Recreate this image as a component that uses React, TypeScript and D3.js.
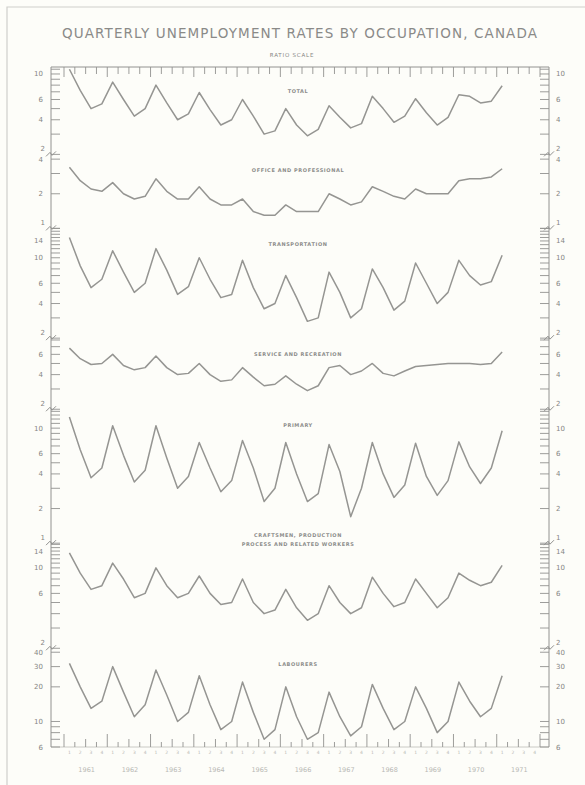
import React, { useRef, useEffect } from "react";
import * as d3 from "d3";

// quarterly rates, 1961 Q1 .. 1971 Q1 (per cent)
const years = ["1961", "1962", "1963", "1964", "1965", "1966", "1967", "1968", "1969", "1970", "1971"];
const quarterMarks = ["1", "2", "3", "4"];

const total = [
  11.0, 7.2, 5.0, 5.5, 8.5, 6.0, 4.3, 5.0, 8.0, 5.6, 4.0, 4.5, 6.9, 4.9, 3.6, 4.0,
  6.0, 4.3, 3.0, 3.2, 5.0, 3.6, 2.9, 3.3, 5.3, 4.2, 3.4, 3.7, 6.4, 5.0, 3.8, 4.3,
  6.1, 4.6, 3.6, 4.2, 6.6, 6.4, 5.6, 5.8, 7.9,
];
const office = [
  3.4, 2.6, 2.2, 2.1, 2.5, 2.0, 1.8, 1.9, 2.7, 2.1, 1.8, 1.8, 2.3, 1.8, 1.6, 1.6,
  1.8, 1.4, 1.3, 1.3, 1.6, 1.4, 1.4, 1.4, 2.0, 1.8, 1.6, 1.7, 2.3, 2.1, 1.9, 1.8,
  2.2, 2.0, 2.0, 2.0, 2.6, 2.7, 2.7, 2.8, 3.3,
];
const transport = [
  15.0, 8.5, 5.5, 6.5, 11.5, 7.5, 5.0, 6.0, 12.0, 7.8, 4.8, 5.6, 10.0, 6.5, 4.5, 4.8,
  9.5, 5.5, 3.6, 4.0, 7.0, 4.5, 2.8, 3.0, 7.5, 5.0, 3.0, 3.6, 8.0, 5.5, 3.5, 4.2,
  9.0, 6.0, 4.0, 5.0, 9.5, 7.0, 5.8, 6.2, 10.5,
];
const service = [
  6.8, 5.5, 4.9, 5.0, 6.0, 4.8, 4.4, 4.6, 5.8, 4.6, 4.0, 4.1, 5.0, 4.0, 3.5, 3.6,
  4.6, 3.8, 3.2, 3.3, 3.9, 3.3, 2.9, 3.2, 4.6, 4.8, 4.0, 4.3, 5.0, 4.1, 3.9, 4.3,
  4.7, 4.8, 4.9, 5.0, 5.0, 5.0, 4.9, 5.0, 6.3,
];
const primary = [
  12.5, 6.5, 3.7, 4.5, 10.5, 5.8, 3.4, 4.3, 10.5, 5.5, 3.0, 3.8, 7.5, 4.5, 2.8, 3.5,
  7.8, 4.5, 2.3, 3.0, 7.5, 4.0, 2.3, 2.7, 7.2, 4.2, 1.7, 3.0, 7.5, 4.0, 2.5, 3.2,
  7.4, 3.8, 2.6, 3.5, 7.6, 4.6, 3.3, 4.5, 9.5,
];
const crafts = [
  13.5, 9.0, 6.5, 7.0, 11.0, 8.0, 5.5, 6.0, 10.0, 7.0, 5.5, 6.0, 8.5, 6.0, 4.8, 5.0,
  8.0, 5.0, 4.0, 4.3, 6.5, 4.5, 3.5, 4.0, 7.0, 5.0, 4.0, 4.5, 8.3, 6.0, 4.6, 5.0,
  8.0, 6.0, 4.5, 5.5, 9.0, 7.8, 7.0, 7.5, 10.5,
];
const labourers = [
  32, 20, 13, 15, 30, 18, 11, 14, 28, 17, 10, 12, 25, 14, 8.5, 10,
  22, 12, 7, 8.5, 20, 11, 7, 8, 18, 11, 7.5, 9, 21, 13, 8.5, 10,
  20, 13, 8, 10, 22, 15, 11, 13, 25,
];

const panelTitles = [
  ["TOTAL"],
  ["OFFICE AND PROFESSIONAL"],
  ["TRANSPORTATION"],
  ["SERVICE AND RECREATION"],
  ["PRIMARY"],
  ["CRAFTSMEN, PRODUCTION", "PROCESS AND RELATED WORKERS"],
  ["LABOURERS"],
];
const panelSeries = [total, office, transport, service, primary, crafts, labourers];
const panelDomains = [
  [2, 11.5], [1, 4.4], [2, 18], [2, 8.3], [1, 14.6], [2, 16.4], [6, 43.3],
];
const panelLabels = [
  [10, 6, 4], [4, 2], [14, 10, 6, 4], [6, 4], [10, 6, 4, 2], [14, 10, 6], [40, 30, 20, 10, 6],
];

const W = 585;
const H = 785;
const TOP = 67;
const BOT = 747;
const AXL = 51;
const AXR = 549;
const X0 = 64;
const X1 = 540;
const ink = "#929290";
const textInk = "#858583";
const font = "'DejaVu Sans', sans-serif";

export default function App() {
  const svgRef = useRef(null);

  useEffect(() => {
    if (!svgRef.current) return;
    const svg = d3.select(svgRef.current);
    svg.selectAll("*").remove();

    svg.append("rect").attr("width", W).attr("height", H).attr("fill", "#fdfdf9");

    // page frame of the scan
    svg.append("path")
      .attr("d", `M7,${H} L7,7 L${W},7`)
      .attr("fill", "none").attr("stroke", "#cfcfcb").attr("stroke-width", 1.2);

    svg.append("text")
      .attr("x", 62).attr("y", 38)
      .attr("textLength", 475).attr("lengthAdjust", "spacing")
      .attr("font-family", font).attr("font-size", 13.5).attr("fill", "#8a8a88")
      .text("QUARTERLY UNEMPLOYMENT RATES BY OCCUPATION, CANADA");

    svg.append("text")
      .attr("x", 292).attr("y", 57).attr("text-anchor", "middle")
      .attr("font-family", font).attr("font-size", 5.5).attr("fill", textInk)
      .attr("letter-spacing", 0.8)
      .text("RATIO SCALE");

    const x = d3.scaleLinear().domain([0, 44]).range([X0, X1]);

    // stack the log panels with one common ratio
    const decades = panelDomains.map(([lo, hi]) => Math.log10(hi / lo));
    const k = (BOT - TOP) / d3.sum(decades);
    let yTop = TOP;
    const panels = panelDomains.map((dom, i) => {
      const h = decades[i] * k;
      const y = d3.scaleLog().domain(dom).range([yTop + h, yTop]);
      const p = { y, top: yTop, bottom: yTop + h, i };
      yTop += h;
      return p;
    });

    const g = svg.append("g");

    // axes frame
    g.append("line").attr("x1", AXL).attr("x2", AXR).attr("y1", TOP).attr("y2", TOP)
      .attr("stroke", ink).attr("stroke-width", 1);
    g.append("line").attr("x1", AXL).attr("x2", AXR).attr("y1", BOT).attr("y2", BOT)
      .attr("stroke", "#bdbdb9").attr("stroke-width", 0.8);
    g.append("line").attr("x1", AXL).attr("x2", AXL).attr("y1", TOP).attr("y2", BOT)
      .attr("stroke", ink).attr("stroke-width", 1);
    g.append("line").attr("x1", AXR).attr("x2", AXR).attr("y1", TOP).attr("y2", BOT)
      .attr("stroke", ink).attr("stroke-width", 1);

    // quarter ticks along top and bottom
    const qs = d3.range(0, 45);
    g.selectAll(".tq").data(qs).join("line")
      .attr("x1", (d) => x(d)).attr("x2", (d) => x(d))
      .attr("y1", TOP).attr("y2", (d) => TOP + (d % 4 === 0 ? 10 : 7))
      .attr("stroke", ink).attr("stroke-width", 0.9);
    g.selectAll(".bq").data(qs).join("line")
      .attr("x1", (d) => x(d)).attr("x2", (d) => x(d))
      .attr("y1", BOT).attr("y2", (d) => BOT - (d % 4 === 0 ? 13 : d % 2 === 0 ? 8 : 5))
      .attr("stroke", ink).attr("stroke-width", 0.9);

    g.selectAll(".ql").data(d3.range(0, 44)).join("text")
      .attr("x", (d) => x(d + 0.5)).attr("y", BOT + 7).attr("text-anchor", "middle")
      .attr("font-family", font).attr("font-size", 4.5).attr("fill", "#b8b8b4")
      .text((d) => quarterMarks[d % 4]);

    g.selectAll(".yl").data(years).join("text")
      .attr("x", (d, i) => x(i * 4 + 2) + 1).attr("y", BOT + 25).attr("text-anchor", "middle")
      .attr("font-family", font).attr("font-size", 6.5).attr("fill", "#b8b8b4")
      .text((d) => d);

    const line = d3.line().x((d, i) => x(i + 0.5));

    panels.forEach((p) => {
      const [lo, hi] = panelDomains[p.i];
      const ticks = d3.range(Math.ceil(lo), Math.floor(hi) + 1)
        .filter((v) => v <= 10 || (hi < 20 ? true : v % 10 === 0));

      [AXL, AXR].forEach((ax, side) => {
        const dir = side === 0 ? 1 : -1;
        g.append("g").selectAll("line").data(ticks).join("line")
          .attr("x1", ax).attr("x2", ax + dir * 9)
          .attr("y1", (d) => p.y(d)).attr("y2", (d) => p.y(d))
          .attr("stroke", ink).attr("stroke-width", 0.9);
        g.append("g").selectAll("text").data(panelLabels[p.i]).join("text")
          .attr("x", side === 0 ? ax - 8 : ax + 7)
          .attr("y", (d) => p.y(d) + 2.5)
          .attr("text-anchor", side === 0 ? "end" : "start")
          .attr("font-family", font).attr("font-size", 7).attr("fill", textInk)
          .text((d) => d);

        if (p.i < panels.length - 1) {
          // break mark where panels meet
          const yb = p.bottom;
          g.append("path")
            .attr("d", `M${ax - 5},${yb + 2} L${ax - 1},${yb - 2} L${ax + 1},${yb + 1} L${ax + 5},${yb - 3}`)
            .attr("fill", "none").attr("stroke", ink).attr("stroke-width", 1);
          g.append("text")
            .attr("x", side === 0 ? ax - 6 : ax + 7).attr("y", yb - 3)
            .attr("text-anchor", side === 0 ? "end" : "start")
            .attr("font-family", font).attr("font-size", 7).attr("fill", textInk)
            .text(lo);
        }
      });

      const titles = panelTitles[p.i];
      g.append("g").selectAll("text").data(titles).join("text")
        .attr("x", 298)
        .attr("y", (d, j) => (p.i === 5 ? p.top - 6 : p.top + (p.i === 0 ? 26 : 18)) + j * 9)
        .attr("text-anchor", "middle")
        .attr("font-family", font).attr("font-size", 5).attr("font-weight", "bold")
        .attr("letter-spacing", 0.6).attr("fill", "#8d8d8b")
        .text((d) => d);

      g.append("path")
        .datum(panelSeries[p.i])
        .attr("d", line.y((d) => p.y(d)))
        .attr("fill", "none").attr("stroke", "#959592").attr("stroke-width", 1.5)
        .attr("stroke-linejoin", "round");
    });
  }, []);

  return (
    <svg
      ref={svgRef}
      width={W}
      height={H}
      style={{ position: "absolute", left: 0, top: 0, display: "block" }}
    />
  );
}
